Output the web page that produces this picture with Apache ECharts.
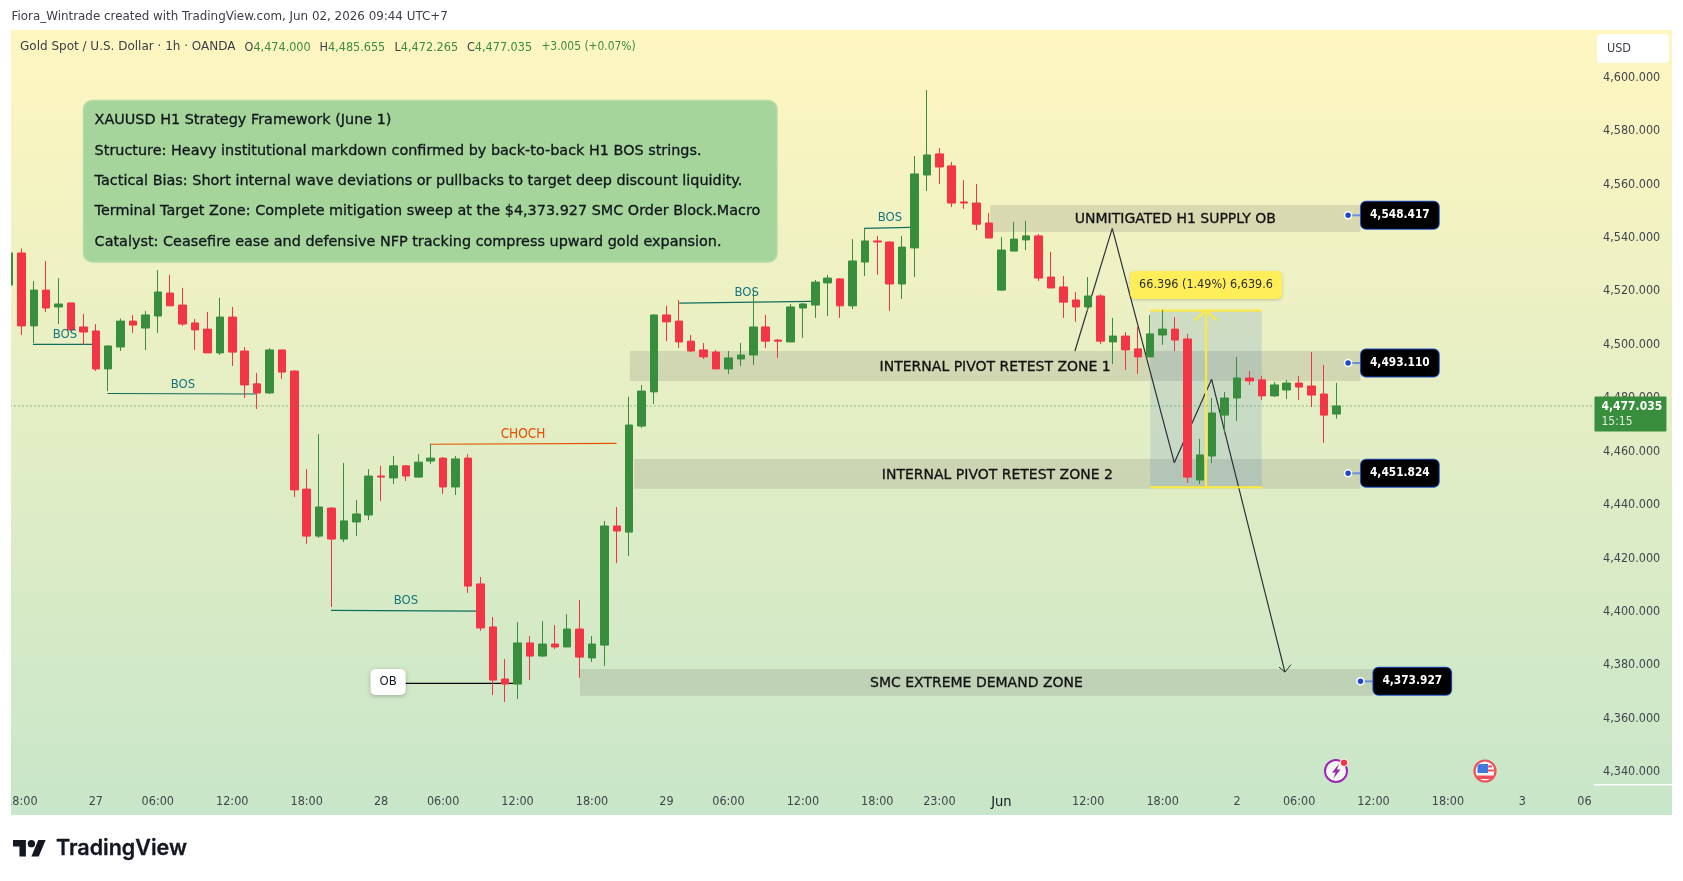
<!DOCTYPE html>
<html><head><meta charset="utf-8"><style>html,body{margin:0;padding:0;background:#fff}#c{width:1683px;height:881px}</style>
<script src="https://cdn.jsdelivr.net/npm/echarts@6/dist/echarts.min.js"></script></head>
<body><div id="c"></div>
<script>
const opens=[4522.3,4534.3,4507.0,4520.4,4514.1,4515.6,4506.6,4505.1,4490.9,4499.1,
4508.8,4506.2,4510.7,4519.3,4514.8,4508.1,4505.8,4496.9,4510.3,4497.6,
4485.3,4481.9,4498.0,4490.1,4445.9,4428.3,4438.8,4427.2,4433.6,4436.2,
4450.8,4450.1,4454.6,4450.4,4456.4,4457.5,4446.7,4457.5,4410.4,4394.3,
4374.8,4372.9,4388.3,4383.4,4387.9,4386.8,4393.5,4382.7,4387.5,4432.1,
4429.8,4469.5,4482.3,4511.1,4508.8,4501.3,4498.0,4497.2,4490.9,4494.6,
4496.1,4506.6,4501.7,4501.0,4513.7,4514.8,4523.1,4524.6,4514.5,4530.9,
4538.8,4538.4,4522.7,4536.2,4563.5,4571.4,4566.9,4553.4,4553.0,4545.5,
4520.4,4535.0,4539.2,4540.7,4525.3,4521.6,4516.7,4514.1,4518.2,4501.0,
4503.2,4498.4,4495.4,4503.6,4505.8,4502.1,4449.3,4458.3,4473.6,4480.0,
4487.5,4486.8,4480.8,4483.0,4485.6,4484.5,4481.5,4474.0];
const closes=[4534.3,4507.0,4520.4,4513.7,4515.2,4505.5,4504.7,4490.9,4499.5,4508.8,
4507.3,4511.1,4519.7,4514.5,4507.7,4505.5,4496.9,4510.3,4497.2,4484.9,
4481.9,4498.0,4489.7,4445.6,4428.3,4439.2,4427.2,4434.0,4436.6,4450.8,
4450.4,4454.6,4450.8,4456.0,4457.5,4446.7,4457.2,4409.6,4393.9,4374.4,
4372.9,4388.3,4383.4,4387.9,4386.8,4393.5,4383.0,4387.9,4432.1,4430.2,
4469.9,4482.6,4511.1,4508.5,4501.0,4497.6,4495.4,4490.9,4495.0,4496.1,
4506.6,4501.3,4501.3,4514.1,4515.2,4523.4,4524.9,4514.5,4531.3,4538.8,
4538.4,4522.7,4536.5,4563.9,4571.0,4566.5,4553.0,4553.0,4545.1,4539.9,
4535.4,4539.5,4540.7,4524.9,4521.2,4515.9,4514.1,4518.2,4501.3,4503.2,
4498.0,4495.4,4504.0,4505.8,4501.7,4450.4,4458.7,4474.4,4480.0,4487.5,
4486.4,4480.8,4484.9,4485.6,4484.1,4481.1,4473.6,4477.035];
const highs=[4534.6,4536.0,4523.8,4531.3,4524.9,4515.6,4511.5,4507.7,4499.6,4509.8,
4511.1,4512.6,4527.9,4526.1,4521.2,4509.6,4512.2,4517.5,4514.1,4499.1,
4489.4,4498.7,4498.0,4490.5,4453.4,4466.5,4439.2,4455.7,4441.8,4453.4,
4454.6,4458.3,4454.9,4459.0,4462.8,4457.9,4458.3,4459.0,4413.0,4398.0,
4382.3,4396.1,4390.9,4396.5,4395.0,4399.1,4404.4,4390.9,4434.0,4439.2,
4480.5,4484.9,4511.3,4514.5,4516.7,4503.6,4500.6,4498.0,4497.6,4500.6,
4520.4,4511.1,4502.1,4515.2,4515.6,4524.2,4526.1,4524.9,4539.5,4543.7,
4540.7,4538.8,4540.7,4570.6,4595.3,4573.6,4568.4,4561.6,4560.1,4549.3,
4540.3,4545.9,4546.3,4541.4,4534.7,4525.7,4519.7,4525.3,4518.9,4510.0,
4504.7,4506.6,4511.1,4513.0,4510.3,4504.0,4464.7,4480.0,4482.3,4495.4,
4490.1,4488.3,4486.0,4486.8,4488.3,4497.2,4492.4,4485.655];
const lows=[4522.0,4503.6,4500.6,4512.2,4507.7,4505.1,4499.9,4490.1,4482.6,4497.6,
4504.4,4498.0,4504.4,4514.5,4507.0,4498.0,4496.9,4496.1,4492.0,4480.0,
4475.9,4481.5,4487.1,4442.9,4425.4,4427.6,4401.8,4426.1,4428.3,4434.3,
4441.4,4447.8,4448.9,4450.1,4455.3,4444.1,4443.7,4407.0,4392.8,4368.8,
4366.2,4367.3,4374.4,4383.0,4386.0,4386.8,4375.2,4381.2,4379.7,4418.2,
4420.9,4468.8,4477.8,4501.3,4498.7,4497.2,4494.6,4490.9,4489.0,4492.0,
4492.4,4498.7,4495.0,4501.0,4502.5,4510.0,4510.7,4510.0,4513.3,4525.7,
4526.1,4512.6,4517.1,4525.3,4557.5,4560.1,4551.5,4550.8,4542.9,4539.9,
4520.1,4535.0,4535.4,4523.8,4521.2,4510.0,4508.5,4512.6,4500.2,4492.7,
4490.5,4489.0,4495.4,4499.9,4497.6,4448.2,4447.8,4455.7,4466.5,4471.4,
4484.9,4479.3,4480.4,4479.6,4479.3,4476.6,4463.2,4472.265];
const timeTickIndex=[1,7,12,18,24,30,35,41,47,53,58,64,70,75,80,87,93,99,104,110,116,122,127];
const timeTickLabels=['18:00','27','06:00','12:00','18:00','28','06:00','12:00','18:00','29','06:00','12:00','18:00','23:00','Jun','12:00','18:00','2','06:00','12:00','18:00','3','06'];
const priceTicks=[4340,4360,4380,4400,4420,4440,4460,4480,4500,4520,4540,4560,4580,4600];
const lastPrice=4477.035;
const barSlots=129;

const zones=[
 {text:'UNMITIGATED H1 SUPPLY OB',x1:79.1,x2:108.95,top:4552.3,bottom:4542.2,price:4548.417,tag:108.95,fill:'rgba(120,118,110,0.2)'},
 {text:'INTERNAL PIVOT RETEST ZONE 1',x1:50.05,x2:108.95,top:4497.6,bottom:4486.4,price:4493.110,tag:108.95,fill:'rgba(120,118,110,0.2)'},
 {text:'INTERNAL PIVOT RETEST ZONE 2',x1:50.4,x2:108.95,top:4457.2,bottom:4446.0,price:4451.824,tag:108.95,fill:'rgba(120,118,110,0.2)'},
 {text:'SMC EXTREME DEMAND ZONE',x1:46.03,x2:109.95,top:4378.6,bottom:4368.5,price:4373.927,tag:109.95,fill:'rgba(120,118,110,0.2)'}
];
const bosLines=[
 [[1.93,4500.1],[6.69,4500.1]],
 [[7.94,4481.7],[20.0,4481.5]],
 [[25.96,4400.5],[37.65,4400.2]],
 [[54.03,4515.5],[64.7,4516.2]],
 [[68.95,4543.5],[72.63,4543.9]]
];
const bosText=[[4.51,4503.8],[14.03,4485.2],[32.0,4404.0],[59.47,4519.3],[71.02,4547.4]];
const chochLine=[[33.96,4462.7],[48.98,4463.0]];
const chochText=[41.44,4466.5];
const obLine=[[31.92,4373.2],[40.87,4373.2]];
const obTag=[29.1,4373.7];
const pathPoints=[[85.93,4497.6],[88.94,4543.5],[93.94,4455.8],[96.95,4487.0],[102.86,4377.4]];
const arrowHead=[[102.38,4379.3],[102.86,4377.4],[103.35,4380.2]];
const measure={x1:92,x2:101,mid:96.5,top:4512.8,bottom:4446.604,labelY:4522.3,text:'66.396 (1.49%) 6,639.6'};
const measureHead=[[95.55,4508.9],[96.5,4512.8],[97.4,4508.9]];
const infoLines=['XAUUSD H1 Strategy Framework (June 1)',
 'Structure: Heavy institutional markdown confirmed by back-to-back H1 BOS strings.',
 'Tactical Bias: Short internal wave deviations or pullbacks to target deep discount liquidity.',
 'Terminal Target Zone: Complete mitigation sweep at the $4,373.927 SMC Order Block.Macro',
 'Catalyst: Ceasefire ease and defensive NFP tracking compress upward gold expansion.'];

const F="'DejaVu Sans Condensed','DejaVu Sans',sans-serif";
const W="'DejaVu Sans',sans-serif";
const UP='#388E3C',DOWN='#F23645',INK='#131722',AXIS='#42454f';
const cats=Array.from({length:barSlots},(_,i)=>String(i));
const labelAt={};timeTickIndex.forEach((v,k)=>labelAt[v]=timeTickLabels[k]);
const candle=opens.map((o,i)=>[o,closes[i],lows[i],highs[i]]);

function line(pts,color,width,z,type){
  return {type:'line',xAxisIndex:1,yAxisIndex:0,data:pts,symbol:'none',silent:true,z:z||1,clip:true,animation:false,
    lineStyle:{color:color,width:width,type:type||'solid',cap:'butt'}};
}
function lbl(pos,text,style){
  return {value:pos,symbolSize:1,itemStyle:{color:'rgba(0,0,0,0)',opacity:1},
    label:Object.assign({show:true,formatter:()=>text,fontFamily:F,opacity:1},style)};
}
const series=[];
series.push({type:'line',xAxisIndex:1,yAxisIndex:0,data:[],z:1,silent:true,
  markArea:{silent:true,z:1,data:zones.map(z=>[{coord:[z.x1,z.top],itemStyle:{color:z.fill}},{coord:[z.x2,z.bottom]}])
    .concat([[{coord:[measure.x1,measure.top],itemStyle:{color:'rgba(50,110,200,0.15)'}},{coord:[measure.x2,measure.bottom]}]])}});
series.push(line(pathPoints,'#2c2f38',1.2,1));
series.push(line(arrowHead,'#2c2f38',1,1));
series.push(line([[measure.x1,measure.top],[measure.x2,measure.top]],'#FFEB3B',2,1));
series.push(line([[measure.x1,measure.bottom],[measure.x2,measure.bottom]],'#FFEB3B',2,1));
series.push(line([[measure.mid,measure.top],[measure.mid,measure.bottom]],'#FFEB3B',2,1));
series.push(line(measureHead,'#FFEB3B',2,1));
bosLines.forEach(l=>series.push(line(l,'#0F6E5E',1.2,1)));
series.push(line(chochLine,'#E65100',1.2,1));
series.push(line(obLine,'#000000',1.2,1));
series.push({type:'candlestick',xAxisIndex:0,yAxisIndex:0,data:candle,barWidth:8,z:3,silent:true,
  itemStyle:{color:UP,color0:DOWN,borderColor:UP,borderColor0:DOWN,borderWidth:1}});
series.push(line([[-0.2,lastPrice],[127.77,lastPrice]],UP,1,4,[1,3]));
zones.forEach(z=>{series.push(line([[z.tag-1,z.price],[z.tag,z.price]],'#6F8FD8',2,4));});
series.push({type:'scatter',xAxisIndex:1,yAxisIndex:0,z:5,silent:true,symbol:'circle',symbolSize:7,
  itemStyle:{color:'#1848CC',borderColor:'#fff',borderWidth:1.5,opacity:1},data:zones.map(z=>[z.tag-1,z.price])});
const T=[];
zones.forEach(z=>{
  T.push(lbl([(z.x1+z.x2)/2,(z.top+z.bottom)/2-0.4],z.text,{position:'inside',fontFamily:W,fontSize:14,color:'#111',textBorderColor:'#111',textBorderWidth:0.3}));
  T.push(lbl([z.tag,z.price],z.price.toLocaleString('en-US',{minimumFractionDigits:3}),
    {position:'right',distance:0,fontSize:11.8,fontWeight:'bold',color:'#fff',backgroundColor:'#000',borderColor:'#1E4FC2',borderWidth:1,borderRadius:5,padding:[7,9,7,9],lineHeight:13}));
});
bosText.forEach(p=>T.push(lbl(p,'BOS',{position:'inside',fontSize:13,color:'#147480'})));
T.push(lbl(chochText,'CHOCH',{position:'inside',fontSize:13.5,color:'#E65100'}));
T.push(lbl(obTag,'OB',{position:'right',distance:0,fontSize:13,color:'#131722',backgroundColor:'#fff',borderRadius:5,padding:[6.5,9,6.5,9],lineHeight:13,shadowBlur:4,shadowColor:'rgba(0,0,0,.25)',shadowOffsetY:1}));
T.push(lbl([measure.mid,measure.labelY],measure.text,{position:'inside',fontSize:12.5,color:'#2c2e36',backgroundColor:'#FFEE58',borderRadius:5,padding:[7.5,9,7.5,9],lineHeight:13,shadowBlur:3,shadowColor:'rgba(0,0,0,.2)',shadowOffsetY:1}));
T.push({value:[127.77,lastPrice],symbolSize:1,itemStyle:{color:'rgba(0,0,0,0)',opacity:1},label:{show:true,opacity:1,position:'right',distance:0,offset:[0,8],
  formatter:'{a|4,477.035}\n{b|15:15}',backgroundColor:UP,padding:[3,6,2,7],width:59,borderRadius:1,
  rich:{a:{fontFamily:F,fontSize:12,fontWeight:'bold',color:'#fff',lineHeight:15},b:{fontFamily:F,fontSize:12,color:'#dfeee0',lineHeight:15}}}});
series.push({type:'scatter',xAxisIndex:1,yAxisIndex:0,z:6,silent:true,itemStyle:{opacity:1},data:T});

const G=[];
G.push({type:'rect',z:-10,shape:{x:11,y:30,width:1661,height:785},style:{fill:new echarts.graphic.LinearGradient(0,0,0,1,[{offset:0,color:'#FFF6C0'},{offset:1,color:'#C8E6C9'}])}});
G.push({type:'rect',z:100,shape:{x:0,y:28,width:11,height:790},style:{fill:'#fff'}});
G.push({type:'rect',z:20,shape:{x:1594,y:784,width:78,height:1.5},style:{fill:'#fff'}});
G.push({type:'text',z:20,x:11.5,y:16.5,style:{text:'Fiora_Wintrade created with TradingView.com, Jun 02, 2026 09:44 UTC+7',font:'11.9px '+W,fill:'#3b3e47',textVerticalAlign:'middle'}});
const hdrY=47.3;
G.push({type:'text',z:20,x:20,y:hdrY,style:{text:'Gold Spot / U.S. Dollar · 1h · OANDA',font:'12px '+W,fill:'#3b3e47',textVerticalAlign:'middle'}});
[['O','4,474.000',244.6],['H','4,485.655',319.6],['L','4,472.265',394.6],['C','4,477.035',467]].forEach(a=>{
  G.push({type:'text',z:20,x:a[2],y:hdrY,style:{rich:{k:{font:'12.5px '+F,fill:'#3b3e47'},v:{font:'12.5px '+F,fill:UP}},text:'{k|'+a[0]+'}{v|'+a[1]+'}',textVerticalAlign:'middle'}});
});
G.push({type:'text',z:20,x:541.4,y:hdrY,style:{text:'+3.005 (+0.07%)',font:'11.9px '+F,fill:UP,textVerticalAlign:'middle'}});
G.push({type:'rect',z:20,shape:{x:1597,y:34,width:72,height:29,r:4},style:{fill:'#fff'}});
G.push({type:'text',z:21,x:1607,y:48.7,style:{text:'USD',font:'12.5px '+F,fill:'#3b3e47',textVerticalAlign:'middle'}});
G.push({type:'rect',z:20,shape:{x:83.5,y:100.5,width:693.5,height:161.5,r:9},style:{fill:'#A5D59A',stroke:'#B2DBAA',lineWidth:1.5}});
[120,151,181.7,211.7,242.7].forEach((y,i)=>G.push({type:'text',z:21,x:94.6,y:y,style:{text:infoLines[i],font:'14.4px '+W,fill:'#10151c',stroke:'#10151c',lineWidth:0.3,textVerticalAlign:'middle'}}));
G.push({type:'circle',z:20,shape:{cx:1336,cy:771,r:11},style:{fill:'#f4f8f2',stroke:'#9C27B0',lineWidth:2}});
G.push({type:'polygon',z:21,shape:{points:[[1339,764],[1332,772.5],[1335.5,772.5],[1333.5,778.5],[1340.5,769.5],[1337,769.5]]},style:{fill:'#9C27B0'}});
G.push({type:'circle',z:22,shape:{cx:1344,cy:762.7,r:3.8},style:{fill:'#F23645',stroke:'#fff',lineWidth:1}});
G.push({type:'circle',z:20,shape:{cx:1485,cy:771,r:10.5},style:{fill:'#fff',stroke:'#F0505A',lineWidth:2.2}});
G.push({type:'rect',z:21,shape:{x:1485,y:765.5,width:7,height:2},style:{fill:'#F0505A'}});
G.push({type:'rect',z:21,shape:{x:1485,y:769.5,width:9,height:2},style:{fill:'#F0505A'}});
G.push({type:'rect',z:21,shape:{x:1477,y:775.5,width:16,height:3.5,r:[0,0,3,3]},style:{fill:'#F0505A'}});
G.push({type:'rect',z:22,shape:{x:1477.5,y:764,width:10.5,height:9,r:[3,0,0,0]},style:{fill:'#3F78E0'}});
const s=.92,ox=13,oy=836.3,pt=(a)=>a.map(p=>[ox+p[0]*s,oy+p[1]*s]);
G.push({type:'polygon',z:20,shape:{points:pt([[14,22],[7,22],[7,11],[0,11],[0,4],[14,4]])},style:{fill:INK}});
G.push({type:'polygon',z:20,shape:{points:pt([[28,22],[20,22],[27.5,4],[35.5,4]])},style:{fill:INK}});
G.push({type:'circle',z:20,shape:{cx:ox+20*s,cy:oy+8*s,r:4*s},style:{fill:INK}});
G.push({type:'text',z:20,x:56,y:848.5,style:{text:'TradingView',font:'600 21.5px Inter,Roboto,sans-serif',fill:INK,stroke:INK,lineWidth:0.3,textVerticalAlign:'middle'}});

const chart=echarts.init(document.getElementById('c'),null,{renderer:'canvas'});
chart.setOption({animation:false,backgroundColor:'#fff',textStyle:{fontFamily:F},
 grid:{left:2.76,top:30,width:12.405*barSlots,height:754,containLabel:false},
 xAxis:[{type:'category',data:cats,boundaryGap:true,axisLine:{show:false},axisTick:{show:false},splitLine:{show:false},
   axisLabel:{interval:(i)=>labelAt[i]!==undefined,hideOverlap:false,showMinLabel:true,showMaxLabel:true,margin:11,fontSize:12.5,color:AXIS,fontFamily:F,
     formatter:(v,i)=>labelAt[i]==='Jun'?'{b|Jun}':(labelAt[i]||''),rich:{b:{fontFamily:F,fontSize:14.5,color:'#131722',padding:[0,0,2,0]}}}},
  {type:'value',min:-0.5,max:barSlots-0.5,show:false,splitLine:{show:false}}],
 yAxis:[{type:'value',position:'right',min:4335.5,max:4617.78,scale:true,axisLine:{show:false},axisTick:{show:false},splitLine:{show:false},
   axisLabel:{customValues:priceTicks,margin:0,fontSize:12.5,color:AXIS,fontFamily:F,align:'left',padding:[4,0,0,0],
     formatter:(v)=>Number(v).toLocaleString('en-US',{minimumFractionDigits:3})}}],
 graphic:G,series:series});
</script></body></html>
